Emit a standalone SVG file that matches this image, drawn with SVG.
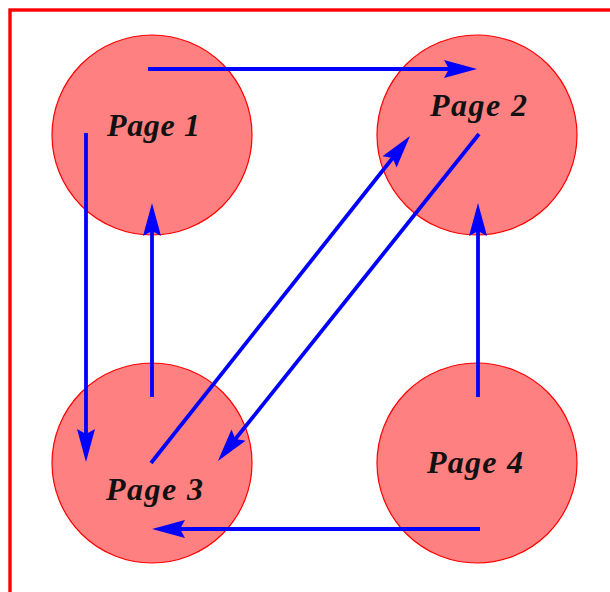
<svg xmlns="http://www.w3.org/2000/svg" width="610" height="592" viewBox="0 0 610 592">
  <style>
    .page circle { fill: #ff8080; stroke: #ff0000; stroke-width: 1.2; }
    .page text { font-family: "Liberation Serif", "DejaVu Serif", serif; font-weight: bold; font-style: italic; font-size: 32px; fill: #111; text-anchor: middle; }
    .link { stroke: #0000ff; stroke-width: 3.8; fill: none; marker-end: url(#head); }
  </style>
  <defs>
    <marker id="head" markerUnits="userSpaceOnUse" orient="auto" refX="0" refY="0" markerWidth="40" markerHeight="40" viewBox="-20 -20 40 40" overflow="visible">
      <path d="M20,0 L-13,-9 L-8,0 L-13,9 Z" fill="#0000ff"/>
    </marker>
  </defs>
  <!-- page frame, running past the right and bottom edges -->
  <rect x="10" y="10" width="640" height="640" fill="#ffffff" stroke="#ff0000" stroke-width="3.4"/>

  <g id="page1" class="page">
    <circle cx="152" cy="135" r="100"/>
    <text x="153.5" y="136" textLength="93" lengthAdjust="spacing">Page 1</text>
  </g>
  <g id="page2" class="page">
    <circle cx="477" cy="135" r="100"/>
    <text x="478.5" y="116" textLength="97" lengthAdjust="spacing">Page 2</text>
  </g>
  <g id="page3" class="page">
    <circle cx="152" cy="463" r="100"/>
    <text x="154.5" y="500" textLength="97" lengthAdjust="spacing">Page 3</text>
  </g>
  <g id="page4" class="page">
    <circle cx="477" cy="463" r="100"/>
    <text x="475" y="473" textLength="96" lengthAdjust="spacing">Page 4</text>
  </g>

  <g id="links">
    <line class="link" x1="148" y1="69" x2="457" y2="69"/>
    <line class="link" x1="86" y1="133" x2="86" y2="442"/>
    <line class="link" x1="152" y1="397" x2="152" y2="223"/>
    <line class="link" x1="151" y1="463" x2="397.6" y2="151.7"/>
    <line class="link" x1="479" y1="134" x2="230.4" y2="445.3"/>
    <line class="link" x1="478" y1="397" x2="478" y2="223"/>
    <line class="link" x1="480" y1="529" x2="172" y2="529"/>
  </g>
</svg>
